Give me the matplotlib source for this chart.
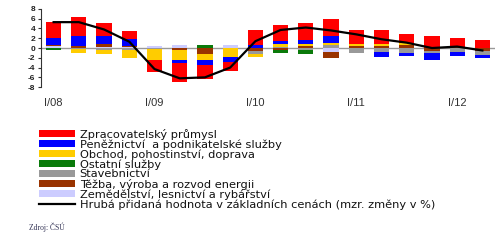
import numpy as np
import matplotlib
matplotlib.use("Agg")
import matplotlib.pyplot as plt
from matplotlib.lines import Line2D

plt.rcParams['axes.unicode_minus'] = False

quarters = ["I/08", "II/08", "III/08", "IV/08", "I/09", "II/09", "III/09", "IV/09",
            "I/10", "II/10", "III/10", "IV/10", "I/11", "II/11", "III/11", "IV/11",
            "I/12", "II/12"]
tick_labels = ["I/08", "I/09", "I/10", "I/11", "I/12"]

zpracovatelsky = [3.3, 3.9, 2.7, 1.7, -2.4, -4.0, -2.8, -1.9, 3.0, 3.3, 3.5, 3.5, 2.8, 2.8, 1.8, 2.4, 1.8, 1.6]
penezinictvi   = [1.4, 2.0, 1.5, 1.3, 0.0, -0.5, -1.0, -1.1, 0.6, 0.7, 0.7, 1.3, 0.0, -1.1, -0.6, -1.3, -0.8, -0.6]
obchod         = [0.0, -0.8, -1.0, -1.8, -2.3, -2.1, -1.3, -1.8, -0.5, 0.5, 0.4, 0.5, 0.5, 0.4, 0.4, 0.0, 0.0, 0.0]
ostatni        = [-0.4, 0.0, 0.0, 0.0, 0.0, 0.0, 0.6, 0.0, 0.0, -0.7, -0.7, 0.0, 0.0, 0.0, 0.0, 0.0, 0.0, 0.0]
stavebnictvi   = [0.0, -0.2, -0.3, -0.3, -0.2, 0.0, 0.0, 0.0, -0.6, 0.3, -0.5, 0.6, -1.0, -0.8, -1.1, -0.4, -0.9, -0.9]
tezba          = [0.3, 0.4, 0.7, 0.2, 0.0, -0.4, -1.2, 0.0, -0.7, -0.4, 0.5, -1.1, 0.4, 0.5, 0.7, -0.7, 0.3, -0.6]
zemedelstvi    = [0.4, 0.0, 0.2, 0.3, 0.4, 0.6, 0.0, 0.6, 0.0, 0.0, 0.0, -0.9, 0.0, 0.0, 0.0, 0.0, 0.0, 0.0]
hph            = [5.3, 5.3, 3.8, 1.3, -4.3, -6.2, -6.0, -4.0, 1.4, 3.7, 4.2, 3.6, 2.8, 1.8, 1.1, 0.0, 0.3, -0.5]

series_names = ["Zpracovatelský průmysl", "Peněžnictví  a podnikatelské služby",
                "Obchod, pohostinství, doprava", "Ostatní služby", "Stavebnictví",
                "Těžba, výroba a rozvod energii", "Zemědělství, lesnictví a rybářství"]
line_name = "Hrubá přidaná hodnota v základních cenách (mzr. změny v %)"
colors = ["#FF0000", "#0000FF", "#FFCC00", "#0A7A0A", "#999999", "#993300", "#CCCCFF"]
series = [zpracovatelsky, penezinictvi, obchod, ostatni, stavebnictvi, tezba, zemedelstvi]

fig = plt.figure(figsize=(5.0, 2.42), dpi=100)
ax = fig.add_axes([0.082, 0.640, 0.908, 0.323])

x = np.arange(len(quarters))
pos_base = np.zeros(len(x))
neg_base = np.zeros(len(x))
handles = {}
# stack from zero outward: last legend entry is nearest zero
for name, vals, col in reversed(list(zip(series_names, series, colors))):
    v = np.array(vals)
    p = np.where(v > 0, v, 0)
    n = np.where(v < 0, v, 0)
    b = ax.bar(x, p, 0.6, bottom=pos_base, color=col, linewidth=0, zorder=2)
    ax.bar(x, n, 0.6, bottom=neg_base, color=col, linewidth=0, zorder=2)
    pos_base += p
    neg_base += n
    handles[name] = b

ax.axhline(0, color="#999999", linewidth=1, zorder=1)
ln, = ax.plot(x, hph, color="black", linewidth=1.6, solid_joinstyle="round", zorder=3)

ax.set_xlim(-0.5, 17.5)
ax.set_ylim(-8, 8)
ax.set_yticks(np.arange(-8, 9, 2))
ax.set_xticks([quarters.index(t) for t in tick_labels])
ax.set_xticklabels(tick_labels)
for s in ["top", "right", "bottom"]:
    ax.spines[s].set_visible(False)
ax.spines["left"].set_color("#333333")
ax.spines["left"].set_linewidth(0.8)
ax.tick_params(axis="y", length=2.5, width=0.8, color="#333333", pad=1.5,
               labelsize=6.0, labelcolor="#222222")
ax.tick_params(axis="x", length=0, pad=8, labelsize=8, labelcolor="#333333")
for t in ax.get_yticklabels() + ax.get_xticklabels():
    t.set_family("Liberation Sans")
for t in ax.get_yticklabels():
    t.set_fontweight("bold")

leg_handles = [handles[n] for n in series_names] + [Line2D([], [], color="black", linewidth=1.6)]
leg = fig.legend(leg_handles, series_names + [line_name], loc="upper left",
                 bbox_to_anchor=(0.066, 0.492), frameon=False, borderpad=0,
                 prop={"family": "DejaVu Sans", "size": 8.2}, handlelength=3.15,
                 handleheight=0.6, handletextpad=0.45, labelspacing=-0.04)
for t in leg.get_texts():
    t.set_color("#111111")

fig.text(0.058, 0.059, "Zdroj: ČSÚ", family="Liberation Serif", fontsize=5.5,
         color="#333355", va="center")

fig.savefig("out.png", dpi=100)
